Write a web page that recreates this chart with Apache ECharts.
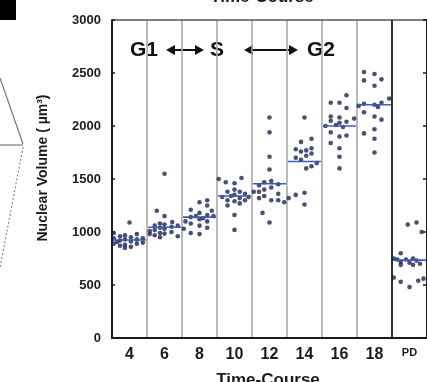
<!DOCTYPE html>
<html>
<head>
<meta charset="utf-8">
<script src="https://cdn.jsdelivr.net/npm/echarts@6/dist/echarts.min.js"></script>
<style>
  html, body { margin: 0; padding: 0; background: #fff; }
  #chart { width: 427px; height: 382px; }
</style>
</head>
<body>
<div id="chart"></div>
<script>
// Time points (hours) and the post-division (PD) group
const timeLabels = ['4', '6', '8', '10', '12', '14', '16', '18', 'PD'];

// Nuclear volume per nucleus, [offset within column, volume in µm³]
const t4 = [[0.0,1090],[-0.45,990],[-0.45,940],[-0.45,890],[-0.27,960],[-0.27,920],[-0.27,870],[-0.13,970],[-0.13,930],[-0.13,880],[-0.13,850],[0.04,950],[0.04,910],[0.04,860],[0.21,980],[0.21,930],[0.21,890],[0.38,900],[0.38,940],[-0.35,905]];
const t6 = [[0.0,1550],[-0.22,1200],[0.0,1150],[0.22,1095],[-0.42,1010],[-0.42,980],[-0.28,1060],[-0.28,1020],[-0.28,970],[-0.13,1080],[-0.13,1040],[-0.13,990],[-0.13,950],[0.0,1070],[0.0,1030],[0.0,985],[0.2,1050],[0.2,1000],[0.38,1060],[0.38,960]];
const t8 = [[-0.45,1030],[-0.25,1210],[-0.25,1140],[-0.25,1080],[-0.25,990],[0.0,1280],[0.0,1180],[0.0,1120],[0.0,1060],[0.0,980],[0.22,1300],[0.22,1250],[0.22,1160],[0.22,1100],[0.22,1040],[-0.1,1150],[0.1,1130],[0.4,1150],[-0.4,1100],[0.35,1200]];
const t10 = [[-0.45,1500],[-0.25,1470],[0.0,1460],[0.2,1510],[-0.35,1330],[-0.2,1380],[-0.2,1300],[-0.2,1250],[0.0,1400],[0.0,1350],[0.0,1290],[0.0,1160],[0.0,1020],[0.15,1380],[0.15,1320],[0.15,1270],[0.3,1360],[0.3,1300],[-0.1,1340],[0.4,1330]];
const t12 = [[0.0,2080],[0.0,1940],[0.0,1710],[0.0,1590],[-0.45,1380],[-0.3,1440],[-0.3,1380],[-0.3,1320],[-0.15,1470],[-0.15,1400],[-0.15,1340],[0.05,1480],[0.05,1420],[0.05,1300],[0.25,1450],[0.25,1360],[0.25,1300],[0.42,1280],[-0.2,1180],[0.0,1090]];
const t14 = [[0.0,2080],[-0.45,1320],[-0.25,1780],[-0.25,1700],[-0.1,1850],[-0.1,1760],[-0.1,1680],[0.05,1770],[0.05,1720],[0.05,1600],[0.2,1880],[0.2,1790],[0.2,1740],[0.2,1620],[-0.25,1350],[0.0,1370],[0.0,1260],[0.35,1650]];
const t16 = [[0.2,2290],[-0.25,2220],[0.0,2220],[0.2,2170],[-0.25,2090],[-0.25,2050],[0.0,2080],[0.0,2030],[0.2,2040],[0.42,2070],[-0.25,1940],[0.0,1900],[0.2,1910],[-0.25,1840],[0.0,1790],[0.0,1710],[0.0,1600],[-0.1,2010],[0.1,1990],[-0.4,2000]];
const t18 = [[-0.3,2510],[0.0,2490],[-0.3,2430],[0.2,2440],[0.0,2380],[0.42,2260],[-0.3,2210],[0.0,2200],[0.2,2220],[-0.45,2190],[-0.3,2130],[0.0,2090],[0.2,2060],[-0.3,1930],[0.0,1970],[0.0,1880],[0.0,1750],[0.1,2180]];
const tPD = [[-0.05,1070],[0.2,1090],[0.35,1000],[-0.25,800],[-0.45,750],[-0.35,740],[-0.25,720],[-0.1,740],[0.0,710],[0.1,750],[0.2,730],[0.3,700],[-0.25,690],[0.1,690],[-0.45,570],[-0.25,530],[0.0,480],[0.25,540],[0.4,560]];

// Median volume of each group
const medians = [925, 1045, 1140, 1340, 1455, 1665, 2000, 2200, 735];

// Volume axis ticks
const yMin = 0, yMax = 3000, yStep = 500;

const groups = [t4, t6, t8, t10, t12, t14, t16, t18, tPD];
const points = [];
groups.forEach((g, i) => g.forEach(([dx, v]) => points.push([i + dx, v])));

const chart = echarts.init(document.getElementById('chart'), null, { renderer: 'canvas' });

const labelFont = 'Liberation Sans, Arial, sans-serif';
const ink = '#1b1b1b';

chart.setOption({
  backgroundColor: '#ffffff',
  animation: false,
  grid: { left: 112, top: 20, width: 318, height: 318 },
  xAxis: [
    {
      type: 'category', data: timeLabels, position: 'bottom', boundaryGap: true,
      axisLine: { onZero: false, lineStyle: { color: ink, width: 2 } },
      axisTick: { inside: true, length: 4, interval: 0, lineStyle: { color: ink, width: 1.5 } },
      axisLabel: {
        interval: 0, margin: 9, color: ink, fontFamily: labelFont, fontWeight: 'bold', fontSize: 16,
        formatter: v => v === 'PD' ? '{s|PD}' : v,
        rich: { s: { fontSize: 11, fontWeight: 'bold', fontFamily: labelFont, color: ink } }
      },
      splitLine: { show: true, interval: 0, lineStyle: { color: '#a9a9a9', width: 1.6 } }
    },
    {
      type: 'category', data: timeLabels, position: 'top', boundaryGap: true,
      axisLine: { onZero: false, lineStyle: { color: '#555', width: 1.5 } },
      axisTick: { inside: true, length: 5, interval: 0, lineStyle: { color: '#444', width: 1.5 } },
      axisLabel: { show: false }, splitLine: { show: false }
    },
    { type: 'value', min: -0.5, max: 8.5, show: false }
  ],
  yAxis: [
    {
      type: 'value', min: yMin, max: yMax, interval: yStep, position: 'left',
      axisLine: { show: true, onZero: false, lineStyle: { color: ink, width: 2 } },
      axisTick: { show: true, inside: true, length: 3, lineStyle: { color: ink, width: 1.5 } },
      axisLabel: { margin: 11, color: ink, fontFamily: labelFont, fontWeight: 'bold', fontSize: 13, formatter: v => String(v) },
      splitLine: { show: false }
    },
    {
      type: 'value', min: yMin, max: yMax, interval: yStep, position: 'right',
      axisLine: { show: true, onZero: false, lineStyle: { color: ink, width: 2 } },
      axisTick: { show: true, inside: true, length: 4, lineStyle: { color: ink, width: 1.5 } },
      axisLabel: { show: false }, splitLine: { show: false }
    }
  ],
  series: [
    {
      type: 'scatter', xAxisIndex: 2, yAxisIndex: 0, data: points,
      symbol: 'circle', symbolSize: 4.6,
      itemStyle: { color: '#1b2352' },
      markLine: {
        silent: true, symbol: 'none', label: { show: false },
        lineStyle: { color: '#222', width: 1.8, type: 'solid' },
        data: [{ xAxis: 7.5 }]
      },
      z: 3
    },
    {
      type: 'custom', xAxisIndex: 2, yAxisIndex: 0,
      data: medians.map((m, i) => [i, m]),
      renderItem: (params, api) => {
        const a = api.coord([api.value(0) - 0.47, api.value(1)]);
        const b = api.coord([api.value(0) + 0.47, api.value(1)]);
        return {
          type: 'line',
          shape: { x1: a[0], y1: a[1], x2: b[0], y2: b[1] },
          style: { stroke: '#3b5cb0', lineWidth: 1.6 }
        };
      },
      z: 4
    }
  ],
  graphic: [
    // edge of the neighbouring panel
    { type: 'rect', shape: { x: 0, y: 0, width: 16, height: 20 }, style: { fill: '#000' } },
    { type: 'line', shape: { x1: 0, y1: 78, x2: 23, y2: 144 }, style: { stroke: '#777', lineWidth: 1.2 } },
    { type: 'line', shape: { x1: 0, y1: 145, x2: 23, y2: 145 }, style: { stroke: '#777', lineWidth: 1.2 } },
    { type: 'line', shape: { x1: 23, y1: 147, x2: 0, y2: 268 }, style: { stroke: '#888', lineWidth: 1.2, lineDash: [2, 2] } },
    // axis titles
    { type: 'text', x: 262, y: -11, style: { text: 'Time-Course', fontFamily: labelFont, fontWeight: 'bold', fontSize: 17, fill: ink, align: 'center', verticalAlign: 'top' } },
    { type: 'text', x: 268, y: 372, style: { text: 'Time-Course', fontFamily: labelFont, fontWeight: 'bold', fontSize: 17, fill: ink, align: 'center', verticalAlign: 'top' } },
    { type: 'text', x: 43, y: 168, rotation: Math.PI / 2, style: { text: 'Nuclear Volume ( µm³)', fontFamily: labelFont, fontWeight: 'bold', fontSize: 14, fill: ink, align: 'center', verticalAlign: 'middle' } },
    // cell-cycle phase annotation
    { type: 'text', x: 130, y: 50, style: { text: 'G1', fontFamily: labelFont, fontWeight: 'bold', fontSize: 21, fill: '#111', verticalAlign: 'middle' } },
    { type: 'text', x: 210, y: 50, style: { text: 'S', fontFamily: labelFont, fontWeight: 'bold', fontSize: 21, fill: '#111', verticalAlign: 'middle' } },
    { type: 'text', x: 307, y: 50, style: { text: 'G2', fontFamily: labelFont, fontWeight: 'bold', fontSize: 21, fill: '#111', verticalAlign: 'middle' } },
    { type: 'line', shape: { x1: 172, y1: 50, x2: 198, y2: 50 }, style: { stroke: '#111', lineWidth: 2 } },
    { type: 'polygon', shape: { points: [[166, 50], [175, 45], [175, 55]] }, style: { fill: '#111' } },
    { type: 'polygon', shape: { points: [[204, 50], [195, 45], [195, 55]] }, style: { fill: '#111' } },
    { type: 'line', shape: { x1: 250, y1: 50, x2: 291, y2: 50 }, style: { stroke: '#111', lineWidth: 2 } },
    { type: 'polygon', shape: { points: [[244, 50], [253, 45], [253, 55]] }, style: { fill: '#111' } },
    { type: 'polygon', shape: { points: [[298, 50], [289, 45], [289, 55]] }, style: { fill: '#111' } }
  ]
});
</script>
</body>
</html>
